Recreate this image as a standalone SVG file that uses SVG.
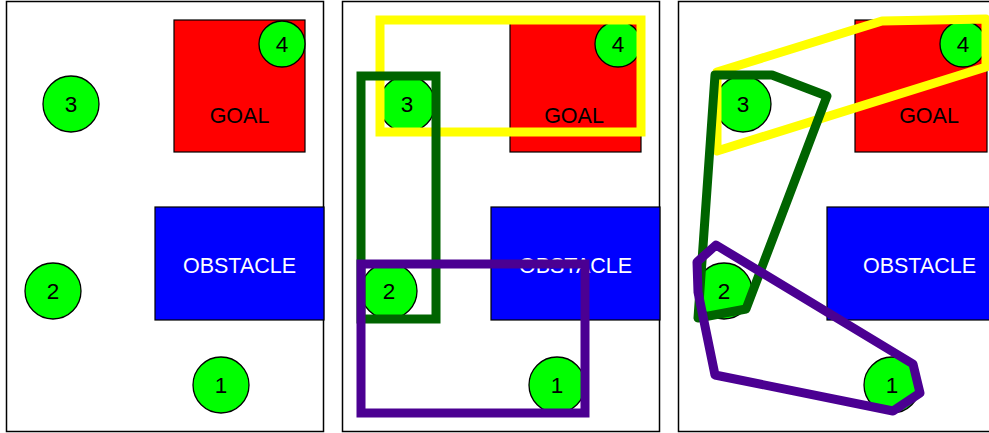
<svg xmlns="http://www.w3.org/2000/svg" width="989" height="433" viewBox="0 0 989 433">
<style>
.bg{fill:#fff}
.panel{fill:#fff;stroke:#000;stroke-width:1.5}
.goal{fill:#ff0000;stroke:#000;stroke-width:1.2}
.obst{fill:#0000ff;stroke:#000;stroke-width:1.2}
.robot{fill:#00ff00;stroke:#000;stroke-width:1.3}
.lbl{font-family:"Liberation Sans",Arial,Helvetica,sans-serif;font-size:21.5px;text-anchor:middle;fill:#000}
.wlbl{font-family:"Liberation Sans",Arial,Helvetica,sans-serif;font-size:21.5px;text-anchor:middle;fill:#fff}
.num{font-family:"Liberation Sans",Arial,Helvetica,sans-serif;font-size:22.5px;text-anchor:middle;fill:#000}
.yel{fill:none;stroke:#ffff00;stroke-width:9}
.grn{fill:none;stroke:#006400;stroke-width:9}
.pur{fill:none;stroke:#4b0092;stroke-width:9}
.poly{stroke-linejoin:round}
</style>
<rect class="bg" x="0" y="0" width="989" height="433"/>

<!-- Panel 1 -->
<g id="panel1">
<rect class="panel" x="6.5" y="1.5" width="317" height="430"/>
<g id="p1-goal"><rect class="goal" x="174" y="20" width="131" height="132"/><text class="lbl" x="239.5" y="123">GOAL</text></g>
<g id="p1-obstacle"><rect class="obst" x="155" y="207" width="169" height="113"/><text class="wlbl" x="239.5" y="273">OBSTACLE</text></g>
<g id="p1-r4"><circle class="robot" cx="282" cy="44" r="23"/><text class="num" x="282" y="52">4</text></g>
<g id="p1-r3"><circle class="robot" cx="71" cy="104" r="28"/><text class="num" x="71" y="112">3</text></g>
<g id="p1-r2"><circle class="robot" cx="53" cy="291" r="28"/><text class="num" x="53" y="299">2</text></g>
<g id="p1-r1"><circle class="robot" cx="221" cy="385" r="28"/><text class="num" x="221" y="393">1</text></g>
</g>

<!-- Panel 2 -->
<g id="panel2">
<rect class="panel" x="342.5" y="1.5" width="317" height="430"/>
<g id="p2-goal"><rect class="goal" x="510" y="20" width="131" height="132"/><text class="lbl" x="574" y="123">GOAL</text></g>
<g id="p2-obstacle"><rect class="obst" x="491" y="207" width="169" height="113"/><text class="wlbl" x="575.5" y="273">OBSTACLE</text></g>
<g id="p2-r4"><circle class="robot" cx="618" cy="44" r="23"/><text class="num" x="618" y="52">4</text></g>
<g id="p2-r3"><circle class="robot" cx="407" cy="104" r="28"/><text class="num" x="407" y="112">3</text></g>
<g id="p2-r2"><circle class="robot" cx="389" cy="291" r="28"/><text class="num" x="389" y="299">2</text></g>
<g id="p2-r1"><circle class="robot" cx="557" cy="385" r="28"/><text class="num" x="557" y="393">1</text></g>
<g id="p2-groups">
<rect class="yel" x="380" y="20" width="261" height="112"/>
<rect class="grn" x="361" y="76" width="75" height="243"/>
<rect class="pur" x="361" y="264" width="224" height="149"/>
</g>
</g>

<!-- Panel 3 -->
<g id="panel3">
<rect class="panel" x="678.5" y="1.5" width="317" height="430"/>
<g id="p3-goal"><rect class="goal" x="855" y="20" width="132" height="132"/><text class="lbl" x="929" y="123">GOAL</text></g>
<g id="p3-obstacle"><rect class="obst" x="827" y="207" width="170" height="113"/><text class="wlbl" x="919.5" y="273">OBSTACLE</text></g>
<g id="p3-r4"><circle class="robot" cx="963" cy="44" r="23"/><text class="num" x="963" y="52">4</text></g>
<g id="p3-r3"><circle class="robot" cx="743" cy="104" r="28"/><text class="num" x="743" y="112">3</text></g>
<g id="p3-r2"><circle class="robot" cx="724" cy="291" r="28"/><text class="num" x="724" y="299">2</text></g>
<g id="p3-r1"><circle class="robot" cx="892" cy="385" r="28"/><text class="num" x="892" y="393">1</text></g>
<g id="p3-groups">
<polygon class="yel poly" points="717,72 882,21 986,19 986,67 717,151"/>
<polygon class="grn poly" points="715,75 772,75 827,96 746,309 698,318"/>
<polygon class="pur poly" points="716,245 697,262 698,292 715,375 893,411 920,393 913,364"/>
</g>
</g>
</svg>
